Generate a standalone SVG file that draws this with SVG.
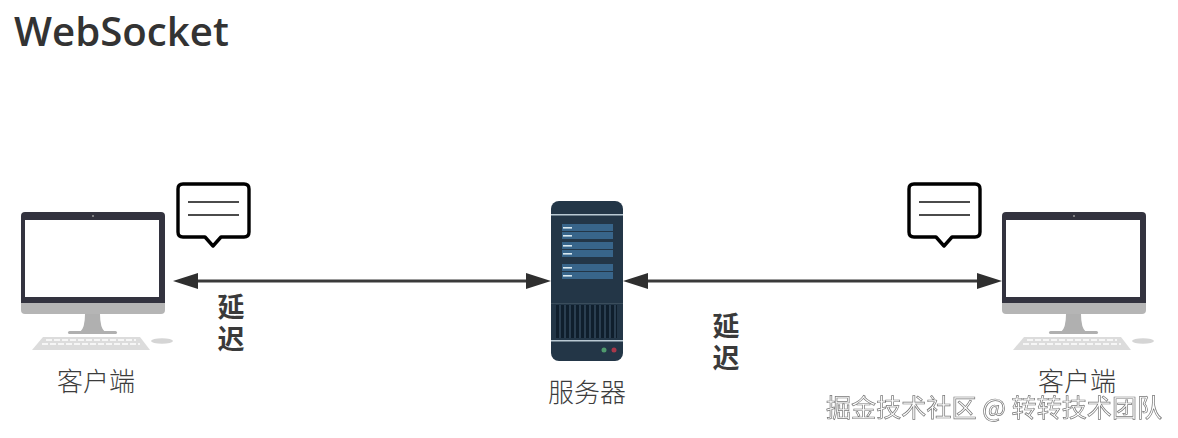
<svg xmlns="http://www.w3.org/2000/svg" xmlns:xlink="http://www.w3.org/1999/xlink" width="1178" height="438" viewBox="0 0 1178 438">
<style>
.t{font-family:"Noto Sans CJK SC","Noto Sans",sans-serif;fill:#3c3c3c}
.lab{font-size:26px;font-weight:300}
.delay{font-size:27px;font-weight:700;fill:#3a3a3a;writing-mode:vertical-rl;letter-spacing:5px}
.title{font-family:"Open Sans","Noto Sans",sans-serif;font-size:40.2px;font-weight:600;fill:#333}
.wm{font-family:"Noto Sans CJK SC",sans-serif;font-size:25.1px;fill:#fff;stroke:#777;stroke-width:.7px;filter:url(#soft)}
.conn{stroke:#3a3a3a;stroke-width:3;fill:none}
.head{fill:#2f2f2f}
.bub{fill:#fff;stroke:#000;stroke-width:3.4;stroke-linejoin:round}
.ln{stroke:#111;stroke-width:1.5}
</style>
<defs>
<filter id="soft" x="-5%" y="-20%" width="110%" height="140%"><feGaussianBlur stdDeviation="0.3"/></filter>
<g id="pc">
<path d="M21 216q0-4 4-4h136q4 0 4 4v87h-144z" fill="#33333f"/>
<rect x="25" y="220" width="134" height="77" fill="#fff"/>
<circle cx="93" cy="216" r="1" fill="#999"/>
<path d="M21 303h144v7q0 4-4 4h-136q-4 0-4-4z" fill="#b5b5b5"/>
<path d="M85 314h15q0 14 5 18h-25q5-4 5-18z" fill="#b0b0b0"/>
<rect x="68" y="331" width="49" height="3" rx="1.5" fill="#b0b0b0"/>
<path d="M43 337h97l10 13h-118z" fill="#dcdcdc"/>
<path d="M46 340h90M42 344h98" stroke="#f6f6f6" stroke-width="2" stroke-dasharray="6 2"/>
<ellipse cx="162" cy="341" rx="11" ry="2.8" fill="#d5d5d5"/>
</g>
<g id="bubble">
<path d="M183 184h61q5 0 5 5v43q0 5-5 5h-23l-8 9-8-9h-22q-5 0-5-5v-43q0-5 5-5z" class="bub"/>
<path d="M188 202h51M188 215h51" class="ln"/>
</g>
</defs>
<text x="14" y="46" class="title">WebSocket</text>
<g id="client-left"><use xlink:href="#pc" href="#pc"/><text x="96" y="391" text-anchor="middle" class="t lab">客户端</text></g>
<g id="bubble-left"><use xlink:href="#bubble" href="#bubble"/></g>
<g id="server">
<rect x="551" y="201" width="72" height="160" rx="8" fill="#233647"/>
<rect x="551" y="214" width="72" height="1.5" fill="#b9c9d3"/>
<g fill="#38658a">
<rect x="562" y="224" width="51" height="7"/><rect x="562" y="232" width="51" height="7"/>
<rect x="562" y="242" width="51" height="7"/><rect x="562" y="250" width="51" height="7"/>
<rect x="562" y="264" width="51" height="7"/><rect x="562" y="272" width="51" height="7"/>
</g>
<g fill="#d8e8f0">
<rect x="563" y="227" width="9" height="1.6"/><rect x="563" y="235" width="9" height="1.6"/>
<rect x="563" y="245" width="9" height="1.6"/><rect x="563" y="253" width="9" height="1.6"/>
<rect x="563" y="267" width="9" height="1.6"/><rect x="563" y="275" width="9" height="1.6"/>
</g>
<rect x="551" y="303" width="72" height="1" fill="#3a4d5c"/>
<rect x="556" y="305" width="61" height="33" fill="#0f1e2c"/>
<path d="M560 305v33M565 305v33M570 305v33M575 305v33M580 305v33M585 305v33M590 305v33M595 305v33M600 305v33M605 305v33M610 305v33M615 305v33" stroke="#34495c" stroke-width="1.5"/>
<rect x="551" y="340" width="72" height="1.5" fill="#b9c9d3"/>
<circle cx="604" cy="350" r="2.5" fill="#4f9a6d"/><circle cx="614" cy="350" r="2.5" fill="#a8384a"/>
<text x="587" y="402" text-anchor="middle" class="t lab">服务器</text>
</g>
<g id="bubble-right"><use xlink:href="#bubble" href="#bubble" x="731"/></g>
<g id="client-right"><use xlink:href="#pc" href="#pc" x="981"/><text x="1077" y="391" text-anchor="middle" class="t lab">客户端</text></g>
<g id="connectors">
<path d="M190 281h344" class="conn"/>
<path d="M198 273v16l-25-8zM526 273v16l25-8z" class="head"/>
<path d="M640 281h346" class="conn"/>
<path d="M648 273v16l-25-8zM977 273v16l25-8z" class="head"/>
</g>
<text id="label-delay-left" x="231" y="293" class="t delay">延迟</text>
<text id="label-delay-right" x="726" y="312" class="t delay">延迟</text>
<text x="826" y="417" class="wm">掘金技术社区 @ 转转技术团队</text>
</svg>
